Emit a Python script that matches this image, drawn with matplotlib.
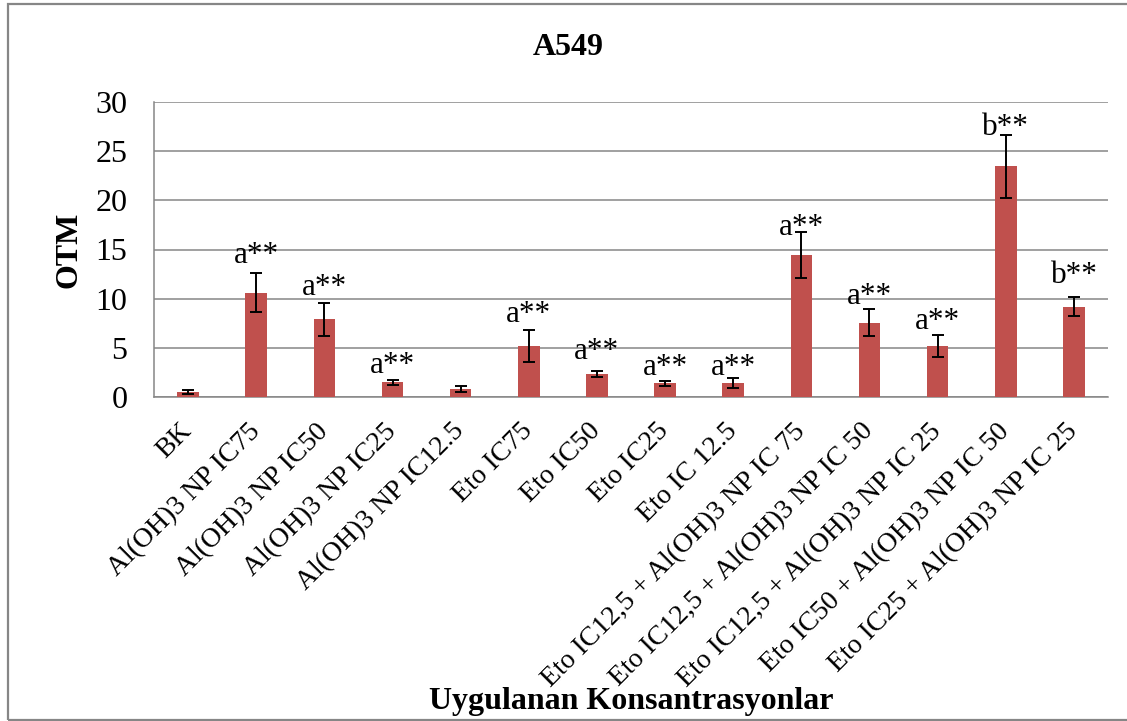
import matplotlib

matplotlib.use("Agg")
import matplotlib.pyplot as plt
from matplotlib.patches import Rectangle
from matplotlib.transforms import ScaledTranslation
import numpy as np

categories = [
    "BK",
    "Al(OH)3 NP IC75",
    "Al(OH)3 NP IC50",
    "Al(OH)3 NP IC25",
    "Al(OH)3 NP IC12.5",
    "Eto IC75",
    "Eto IC50",
    "Eto IC25",
    "Eto IC 12.5",
    "Eto IC12,5 + Al(OH)3 NP IC 75",
    "Eto IC12,5 + Al(OH)3 NP IC 50",
    "Eto IC12,5 + Al(OH)3 NP IC 25",
    "Eto IC50 + Al(OH)3 NP IC 50",
    "Eto IC25 + Al(OH)3 NP IC 25",
]
otm_mean = [0.5, 10.6, 7.9, 1.5, 0.8, 5.2, 2.35, 1.4, 1.4, 14.4, 7.55, 5.2, 23.45, 9.2]
otm_err = [0.2, 2.0, 1.65, 0.27, 0.27, 1.6, 0.3, 0.27, 0.5, 2.33, 1.35, 1.15, 3.2, 1.0]
sig_labels = ["", "a**", "a**", "a**", "", "a**", "a**", "a**", "a**",
              "a**", "a**", "a**", "b**", "b**"]
# heights of the significance text boxes (baseline, in OTM units)
sig_label_y = [0, 13.6, 10.35, 2.4, 0, 7.6, 3.85, 2.2, 2.2,
               16.5, 9.45, 6.95, 26.6, 11.6]

plt.rcParams.update({
    "font.family": ["Liberation Serif", "DejaVu Serif"],
    "font.size": 23,
})

W, H = 1127, 721
fig = plt.figure(figsize=(W / 100, H / 100), dpi=100)
ax = fig.add_axes([154 / W, 1 - 397 / H, (1108 - 154) / W, (397 - 102) / H])

x = np.arange(len(categories))
ax.bar(x, otm_mean, width=0.315, color="#C0504D", zorder=3)
ax.errorbar(x, otm_mean, yerr=otm_err, fmt="none", ecolor="black",
            elinewidth=1.4, capsize=4.5, capthick=1.4, zorder=4)

for xi, lab, ly in zip(x, sig_labels, sig_label_y):
    if lab:
        ax.text(xi, ly, lab, ha="center", va="baseline", fontsize=22.5, zorder=5)

ax.set_xlim(-0.5, len(categories) - 0.5)
ax.set_ylim(0, 30)
ax.set_yticks(np.arange(0, 31, 5))
ax.yaxis.grid(True, color="#868686", linewidth=1.1, zorder=0)
ax.set_axisbelow(True)
for side in ["top", "right"]:
    ax.spines[side].set_visible(False)
for side in ["left", "bottom"]:
    ax.spines[side].set_color("#868686")
    ax.spines[side].set_linewidth(1.1)

ax.set_xticks(x)
ax.set_xticklabels(categories, rotation=45, ha="right", va="center",
                   rotation_mode="anchor", fontsize=20)
shift = ScaledTranslation(5 / 100, 0, fig.dpi_scale_trans)
for lbl in ax.get_xticklabels():
    lbl.set_transform(lbl.get_transform() + shift)
ax.tick_params(axis="x", length=0, pad=22)
ax.tick_params(axis="y", length=0, pad=19, labelsize=23)

ax.set_ylabel("OTM", fontweight="bold", fontsize=23, labelpad=9)
fig.text(631 / W, 1 - 709 / H, "Uygulanan Konsantrasyonlar", ha="center",
         va="baseline", fontweight="bold", fontsize=23)
fig.text(568 / W, 1 - 55 / H, "A549", ha="center", va="baseline",
         fontweight="bold", fontsize=23)

# chart-area border
fig.patches.append(Rectangle((8 / W, 1.5 / H), 1.2, 1 - 5.5 / H,
                             transform=fig.transFigure, fill=False,
                             edgecolor="#868686", linewidth=1.6))

fig.savefig("out.png", dpi=100)
